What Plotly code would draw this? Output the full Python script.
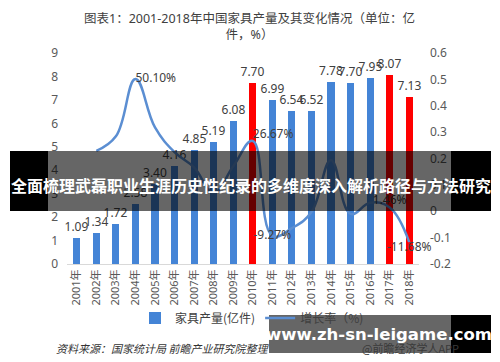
import plotly.graph_objects as go

# ---- data ----
years = ["2001年", "2002年", "2003年", "2004年", "2005年", "2006年", "2007年", "2008年", "2009年",
         "2010年", "2011年", "2012年", "2013年", "2014年", "2015年", "2016年", "2017年", "2018年"]
output = [1.09, 1.34, 1.72, 2.58, 3.40, 4.16, 4.85, 5.19, 6.08,
          7.70, 6.99, 6.54, 6.52, 7.78, 7.70, 7.95, 8.07, 7.13]
growth = [None, 0.229, 0.284, 0.501, 0.318, 0.224, 0.166, 0.070, 0.171,
          0.2667, -0.0927, -0.064, -0.003, 0.193, -0.010, 0.032, 0.0146, -0.1168]
growth_labels = ["", "", "", "50.10%", "", "", "", "", "",
                 "26.67%", "-9.27%", "", "", "", "", "", "1.46%", "-11.68%"]
highlight_years = {"2010年", "2017年", "2018年"}
left_ticks = [0, 1, 2, 3, 4, 5, 6, 7, 8, 9]
right_ticks = [-0.2, -0.1, 0, 0.1, 0.2, 0.3, 0.4, 0.5, 0.6]
right_tick_text = ["-0.2", "-0.1", "0", "0.1", "0.2", "0.3", "0.4", "0.5", "0.6"]

# ---- style ----
W, H = 500, 362
L, R, T, B = 67, 419, 53, 264
FONT = "Noto Sans, Noto Sans CJK SC, sans-serif"
BLUE = "#4484d6"
RED = "#ff0000"
LINE = "#5b8ed2"
TXT = "#404040"

def px(x):
    return (x - L) / (R - L)

def py(y):
    return (B - y) / (B - T)

bar_colors = [RED if y in highlight_years else BLUE for y in years]
label_pos = {"50.10%": "middle right", "26.67%": "top right", "-9.27%": "middle center",
             "1.46%": "top center", "-11.68%": "bottom center"}
text_positions = [label_pos.get(t, "top center") for t in growth_labels]

fig = go.Figure()
fig.add_trace(go.Bar(
    x=years, y=output, name="家具产量(亿件)",
    marker=dict(color=bar_colors, line=dict(width=0)),
    width=0.36,
    text=[f"{v:.2f}" for v in output], textposition="outside",
    constraintext="none",
    textfont=dict(size=12, color=TXT, family=FONT),
    cliponaxis=False,
))
fig.add_trace(go.Scatter(
    x=years, y=growth, name="增长率（%)", yaxis="y2",
    mode="lines+text", line=dict(color=LINE, width=2.5, shape="spline", smoothing=1.2),
    text=growth_labels, textposition=text_positions,
    textfont=dict(size=12, color=TXT, family=FONT),
    cliponaxis=False,
))

shapes = []
def rect(x0, x1, y0, y1, color):
    shapes.append(dict(type="rect", xref="paper", yref="paper",
                       x0=px(x0), x1=px(x1), y0=py(y1), y1=py(y0),
                       fillcolor=color, line=dict(width=0), layer="above"))

# banner overlay
rect(10, 48, 151, 211, "#000000")
rect(48, 451, 151, 211, "rgba(0,0,0,0.6)")
rect(451, 491, 151, 211, "#000000")
# bottom watermark box
rect(269, 451, 315, 353, "rgba(0,0,0,0.6)")
rect(451, 491, 315, 353, "#000000")

annotations = [
    dict(text="图表1：2001-2018年中国家具产量及其变化情况（单位：亿<br>件，%）",
         xref="paper", yref="paper", x=px(249), y=py(8), xanchor="center", yanchor="top",
         showarrow=False, font=dict(size=12.5, color="#404040", family=FONT), align="center"),
    dict(text="<b>全面梳理武磊职业生涯历史性纪录的多维度深入解析路径与方法研究</b>",
         xref="paper", yref="paper", x=px(251), y=py(185), xanchor="center", yanchor="middle",
         showarrow=False, font=dict(size=16, color="#ffffff", family="Noto Sans CJK SC")),
    dict(text="<i>资料来源：国家统计局 前瞻产业研究院整理</i>",
         xref="paper", yref="paper", x=px(54), y=py(348), xanchor="left", yanchor="middle",
         showarrow=False, font=dict(size=11, color="#333333", family="Noto Sans CJK SC")),
    dict(text="@前瞻经济学人APP",
         xref="paper", yref="paper", x=px(360), y=py(348), xanchor="left", yanchor="middle",
         showarrow=False, font=dict(size=11, color="#3a3a3a", family="Noto Sans CJK SC")),
    dict(text="<b>www.zh-sn-leigame.com</b>",
         xref="paper", yref="paper", x=px(379), y=py(334), xanchor="center", yanchor="middle",
         showarrow=False, font=dict(size=16.5, color="#ffffff", family="DejaVu Sans")),
]

fig.update_layout(
    width=W, height=H,
    margin=dict(l=L, r=W - R, t=T, b=H - B, pad=0, autoexpand=False),
    paper_bgcolor="white", plot_bgcolor="white",
    font=dict(family=FONT, color="#595959", size=12),
    showlegend=True,
    legend=dict(orientation="h", x=px(252), y=py(318), xanchor="center", yanchor="middle",
                font=dict(size=12, color="#404040", family="Noto Sans CJK SC"),
                bgcolor="rgba(0,0,0,0)", itemwidth=30, tracegroupgap=0),
    xaxis=dict(range=[-0.5, len(years) - 0.5], showgrid=False, showline=True,
               linecolor="#d9d9d9", linewidth=1,
               tickangle=-90, tickfont=dict(size=11, color="#595959"), ticks="",
               zeroline=False, fixedrange=True),
    yaxis=dict(range=[0, 9], tickvals=left_ticks, showgrid=False, zeroline=False,
               showline=False, ticks="", ticklabelstandoff=8,
               tickfont=dict(size=12, color="#595959")),
    yaxis2=dict(range=[-0.2, 0.6], tickvals=right_ticks, ticktext=right_tick_text,
                overlaying="y", side="right", showgrid=False, zeroline=False,
                showline=False, ticks="", ticklabelstandoff=10,
                tickfont=dict(size=12, color="#595959")),
    bargap=0.0,
    shapes=shapes,
    annotations=annotations,
)

fig.write_html("out.html", config={"displayModeBar": False},
               post_script="document.body.style.margin='0';document.body.style.overflow='hidden';")
